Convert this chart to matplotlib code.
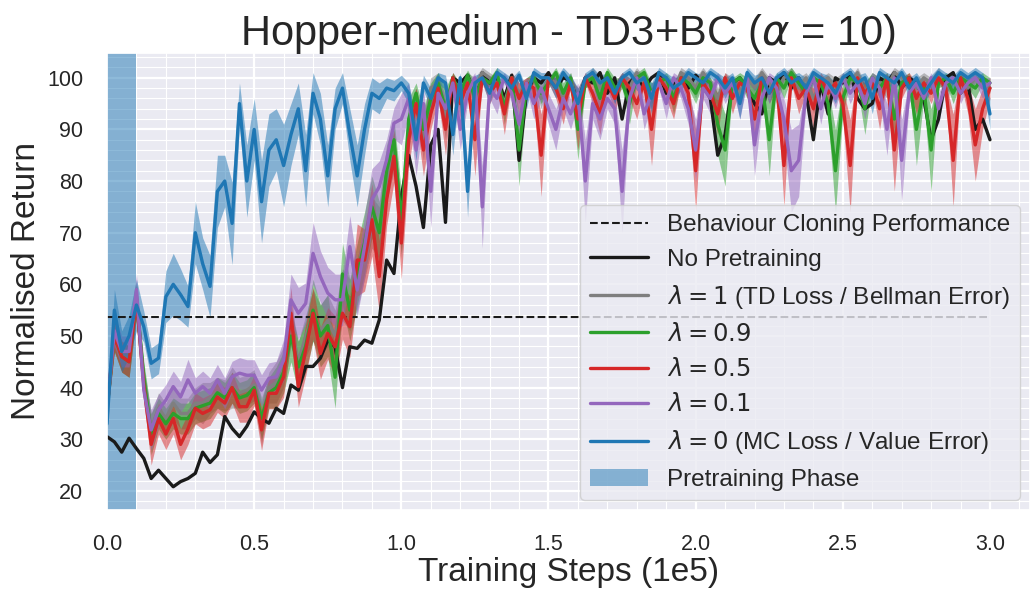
import numpy as np
import matplotlib
matplotlib.use('Agg')
import matplotlib.pyplot as plt
import seaborn as sns

# training steps in units of 1e5, one evaluation every 2500 steps
steps = np.linspace(0, 3.0, 121)
bc_score = 53.6
pretrain_end = 0.1

no_pretrain = [30.5, 29.5, 27.5, 30.2, 28.2, 26.3, 22.4, 24.0, 22.4, 20.8,
               21.8, 22.4, 23.4, 27.5, 25.5, 27.0, 34.4, 32.1, 30.5, 32.5,
               35.3, 34.0, 33.1, 36.0, 35.0, 40.5, 39.5, 44.1, 44.1, 45.7,
               49.2, 47.9, 40.0, 47.9, 47.6, 49.2, 48.6, 53.1, 64.7, 62.1,
               77.0, 85.0, 79.0, 71.0, 87.0, 90.0, 72.0, 100.0, 99.0, 100.5,
               97, 101, 99, 100, 96, 100.5, 84, 97, 100, 99,
               101, 98, 100, 99.5, 95, 100, 99, 101, 97, 100,
               92, 99, 100.5, 98, 100, 101, 97, 99, 100, 98,
               100.5, 99, 96, 85, 89, 99, 100, 98, 95, 93,
               100, 99, 101, 98, 100, 97, 88, 99, 93, 100,
               99, 101, 96, 94, 95, 100, 99, 101, 98, 100,
               99, 96, 88, 92, 100, 101, 97, 99, 90, 92,
               88]

lam_1 = [36, 50, 46, 45, 57, 41, 32, 36, 34, 37,
         35, 35, 37, 37, 38, 39, 38.5, 40, 39, 39.5,
         40.5, 33, 40, 41, 44, 52, 45, 50, 54, 51,
         53, 50, 58, 56, 60, 66, 72, 70, 80, 86,
         70, 90, 96, 88, 98, 99, 92, 100, 96, 100,
         98, 101, 100, 99, 95, 100, 97, 99, 100, 96,
         100, 99, 96, 100, 94, 99, 101, 98, 100, 97,
         100, 98, 101, 99, 96, 100, 99, 97, 101, 100,
         98, 101, 99, 96, 100, 99, 97, 100, 98, 101,
         99, 97, 100, 101, 98, 100, 96, 99, 100, 98,
         100, 99, 101, 97, 100, 99, 98, 101, 100, 99,
         98, 100, 99, 101, 97, 100, 99, 98, 100, 99,
         98]
lam_1_std = [2, 3, 3, 3, 3, 3, 3, 3, 3, 3,
             3, 3, 3, 4, 3, 3, 3, 4, 3, 3,
             3, 4, 3, 4, 4, 4, 4, 4, 5, 5,
             5, 5, 5, 5, 5, 5, 5, 5, 4, 4,
             5, 4, 2, 4, 2, 2, 4, 1, 2, 1,
             2, 1, 1, 1, 2, 1, 2, 1, 1, 2,
             1, 1, 2, 1, 3, 1, 1, 2, 1, 2,
             1, 2, 1, 1, 2, 1, 1, 2, 1, 1,
             2, 1, 1, 2, 1, 1, 2, 1, 2, 1,
             1, 2, 1, 1, 2, 1, 3, 1, 1, 2,
             1, 1, 1, 2, 1, 1, 2, 1, 1, 1,
             2, 1, 1, 1, 2, 1, 1, 2, 1, 1,
             1]

lam_09 = [36, 50, 46, 45, 57, 42, 31, 35, 33, 35,
          34, 34, 36, 36.5, 37, 39, 38, 40, 38, 38.5,
          40, 34, 39, 40, 43, 50, 44, 48, 55, 50,
          52, 42, 62, 55, 62, 68, 75, 70, 82, 88,
          72, 92, 97, 90, 96, 99, 94, 100, 97, 100.5,
          96, 100, 99, 101, 94, 100, 86, 98, 100, 97,
          99, 101, 97, 100, 90, 99, 100, 96, 101, 98,
          99, 95, 100, 101, 97, 99, 100, 96, 100, 99,
          97, 100, 99, 91, 86, 99, 100, 98, 96, 99,
          88, 100, 98, 101, 99, 97, 100, 99, 95, 82,
          96, 100, 99, 94, 100, 98, 100, 92, 99, 100,
          90, 98, 86, 99, 100, 97, 100, 99, 98, 100,
          99]
lam_09_std = [2, 3, 3, 3, 3, 3, 4, 3, 3, 3,
              3, 3, 3, 3, 3, 3, 3, 3, 3, 3,
              3, 4, 3, 4, 4, 5, 5, 5, 6, 6,
              6, 6, 6, 6, 6, 6, 6, 6, 5, 4,
              6, 4, 2, 4, 3, 2, 4, 1, 2, 1,
              3, 1, 1, 1, 3, 1, 7, 2, 1, 2,
              1, 1, 2, 1, 6, 1, 1, 3, 1, 2,
              1, 4, 1, 1, 2, 1, 1, 3, 1, 1,
              2, 1, 1, 6, 7, 1, 1, 2, 3, 1,
              7, 1, 2, 1, 1, 2, 1, 1, 3, 8,
              3, 1, 1, 5, 1, 2, 1, 6, 1, 1,
              7, 2, 8, 1, 1, 2, 1, 1, 2, 1,
              1]

lam_05 = [36, 50, 46, 45, 57, 40.5, 29, 34, 31, 34,
          29, 32, 36, 35, 35.7, 38.2, 37, 40, 36.3, 36.3,
          39.5, 31.8, 38.9, 38.9, 42.1, 54.4, 40.2, 47.3, 54.4, 46.6,
          50.5, 47.9, 54.4, 51.8, 64.7, 64.7, 72.5, 61.5, 76.4, 84.8,
          68, 88, 95, 86, 93, 98, 90, 100, 95, 99,
          88, 100, 97, 99, 93, 100, 96, 99, 98, 85,
          100, 98, 94, 99, 92, 100, 97, 93, 99, 96,
          100, 98, 95, 99, 90, 100, 98, 95, 100, 97,
          82, 99, 97, 93, 100, 96, 99, 98, 92, 100,
          97, 99, 83, 100, 96, 98, 94, 100, 97, 99,
          95, 83, 100, 97, 99, 94, 100, 86, 98, 100,
          96, 99, 97, 100, 98, 84, 100, 96, 87, 94,
          98]
lam_05_std = [2, 3, 3, 3, 3, 3, 4, 3, 3, 3,
              3, 3, 3, 3, 3, 3, 3, 3, 3, 3,
              3, 4, 3, 3, 4, 5, 4, 5, 5, 5,
              5, 6, 5, 6, 7, 6, 7, 7, 5, 5,
              7, 5, 3, 5, 3, 2, 5, 1, 3, 1,
              7, 1, 2, 1, 4, 1, 3, 1, 2, 8,
              1, 2, 3, 1, 6, 1, 2, 4, 1, 3,
              1, 2, 3, 1, 7, 1, 2, 3, 1, 2,
              8, 1, 2, 4, 1, 3, 1, 1, 4, 1,
              2, 1, 8, 1, 3, 1, 4, 1, 2, 1,
              3, 9, 1, 2, 1, 4, 1, 8, 2, 1,
              3, 1, 2, 1, 1, 9, 1, 3, 7, 4,
              2]

lam_01 = [36, 51, 47, 47, 59, 39.5, 31.8, 35.7, 37.6, 40.2,
          38.2, 41.5, 38.9, 40.2, 38.9, 41.5, 38.9, 42.1, 42.8, 42.4,
          42.4, 39.5, 41.8, 42.1, 45.3, 57, 54.4, 56.3, 66, 61.5,
          58.3, 57, 57, 67.3, 58.9, 67.3, 76.4, 78.9, 84.1, 91.2,
          92, 96, 86, 95, 78, 97, 94, 99, 90, 97,
          100, 75, 98, 96, 100, 97, 91, 99, 95, 98,
          94, 90, 96, 93, 97, 80, 95, 92, 96, 94,
          78, 96, 100, 93, 97, 99, 95, 100, 98, 94,
          86, 98, 96, 100, 97, 99, 95, 100, 87, 96,
          100, 98, 92, 82, 84, 97, 100, 94, 99, 96,
          100, 97, 99, 95, 100, 98, 90, 100, 84, 97,
          99, 96, 100, 94, 99, 100, 97, 99, 100, 98,
          99]
lam_01_std = [2, 3, 3, 3, 3, 3, 4, 3, 3, 3,
              3, 4, 3, 3, 3, 3, 3, 3, 3, 3,
              3, 3, 3, 3, 4, 5, 5, 4, 6, 5,
              5, 5, 5, 6, 5, 6, 6, 5, 4, 3,
              5, 3, 5, 3, 7, 2, 3, 1, 4, 2,
              1, 8, 2, 3, 1, 2, 5, 1, 3, 2,
              3, 4, 2, 3, 2, 8, 3, 4, 2, 3,
              8, 2, 1, 3, 2, 1, 3, 1, 2, 3,
              6, 2, 3, 1, 2, 1, 3, 1, 6, 2,
              1, 2, 4, 8, 7, 2, 1, 3, 1, 2,
              1, 2, 1, 3, 1, 2, 5, 1, 8, 2,
              1, 2, 1, 3, 1, 1, 2, 1, 1, 2,
              1]

lam_0 = [33, 55, 47, 50, 56, 51.8, 44.7, 45.7, 57.6, 60,
         58, 55.7, 70, 64, 59.6, 78, 80, 71.8, 95, 80,
         90, 76, 86, 88, 83, 89, 94, 82, 97, 92,
         81, 94, 98, 89, 81, 90, 97, 96, 98, 97.5,
         99, 97, 88, 99, 96, 100, 99, 89, 100, 78,
         99, 100, 97, 101, 100, 98, 100.5, 96, 101, 100,
         100, 98, 101, 99, 95, 100, 101, 99, 100, 97,
         100, 101, 99, 100, 96, 101, 100, 98, 99, 101,
         100, 99, 101, 100, 98, 100, 95, 101, 99, 100,
         97, 100, 101, 99, 100, 98, 101, 100, 99, 97,
         100, 101, 99, 100, 96, 101, 100, 99, 101, 98,
         100, 97, 99, 101, 100, 99, 101, 100, 101, 100,
         93]
lam_0_std = [2, 4, 4, 4, 5, 3, 3, 3, 5, 6,
             5, 4, 6, 5, 6, 7, 5, 8, 4, 7,
             6, 8, 7, 6, 8, 6, 5, 7, 4, 5,
             6, 4, 3, 5, 6, 5, 3, 3, 2, 2,
             1.5, 2, 4, 1.5, 2, 1, 1.5, 4, 1, 5,
             1.5, 1, 2, 1, 1, 2, 1, 2, 1, 1,
             1, 2, 1, 1.5, 3, 1, 1, 1.5, 1, 2,
             1, 1, 1.5, 1, 3, 1, 1, 2, 1.5, 1,
             1, 1.5, 1, 1, 2, 1, 3, 1, 1.5, 1,
             2, 1, 1, 1.5, 1, 2, 1, 1, 1.5, 2,
             1, 1, 1.5, 1, 3, 1, 1, 1.5, 1, 2,
             1, 2, 1.5, 1, 1, 1.5, 1, 1, 1, 1,
             3]

sns.set_theme(style='darkgrid')
plt.rcParams['font.family'] = ['Liberation Sans', 'DejaVu Sans']

fig = plt.figure(figsize=(10.3, 5.9), dpi=100)
ax = fig.add_axes([0.1039, 0.1356, 0.8961, 0.7746])

ax.plot(steps, [bc_score] * len(steps), 'k--', lw=1.5,
        label='Behaviour Cloning Performance')
ax.plot(steps, no_pretrain, color='k', lw=2.4, label='No Pretraining')

series = [
    (lam_1, lam_1_std, '#7f7f7f', r'$\lambda = 1$ (TD Loss / Bellman Error)'),
    (lam_09, lam_09_std, '#2ca02c', r'$\lambda = 0.9$'),
    (lam_05, lam_05_std, '#d62728', r'$\lambda = 0.5$'),
    (lam_01, lam_01_std, '#9467bd', r'$\lambda = 0.1$'),
    (lam_0, lam_0_std, '#1f77b4', r'$\lambda = 0$ (MC Loss / Value Error)'),
]
for vals, std, c, lab in series:
    vals = np.array(vals, dtype=float)
    std = np.array(std, dtype=float)
    ax.fill_between(steps, vals - std, vals + std, color=c, alpha=0.5, lw=0)
    ax.plot(steps, vals, color=c, lw=2.4, label=lab)

ax.axvspan(0, pretrain_end, color='#1f77b4', alpha=0.5, lw=0, zorder=0.8,
           label='Pretraining Phase')

ax.set_xlim(0, 3.136)
ax.set_ylim(16.3, 104.8)
ax.set_yticks(range(20, 101, 10))
ax.minorticks_on()
ax.grid(which='major', color='white', lw=1.6)
ax.grid(which='minor', color='white', lw=0.8)
ax.tick_params(which='both', length=0, pad=17, labelsize=15.5)

ax.set_title(r'Hopper-medium - TD3+BC ($\alpha$ = 10)', fontsize=30)
ax.set_xlabel('Training Steps (1e5)', fontsize=24, labelpad=2)
ax.set_ylabel('Normalised Return', fontsize=24)
ax.legend(loc='lower right', fontsize=17.5, borderaxespad=0.4,
          handlelength=2.4)

fig.savefig('out.png', dpi=100)
